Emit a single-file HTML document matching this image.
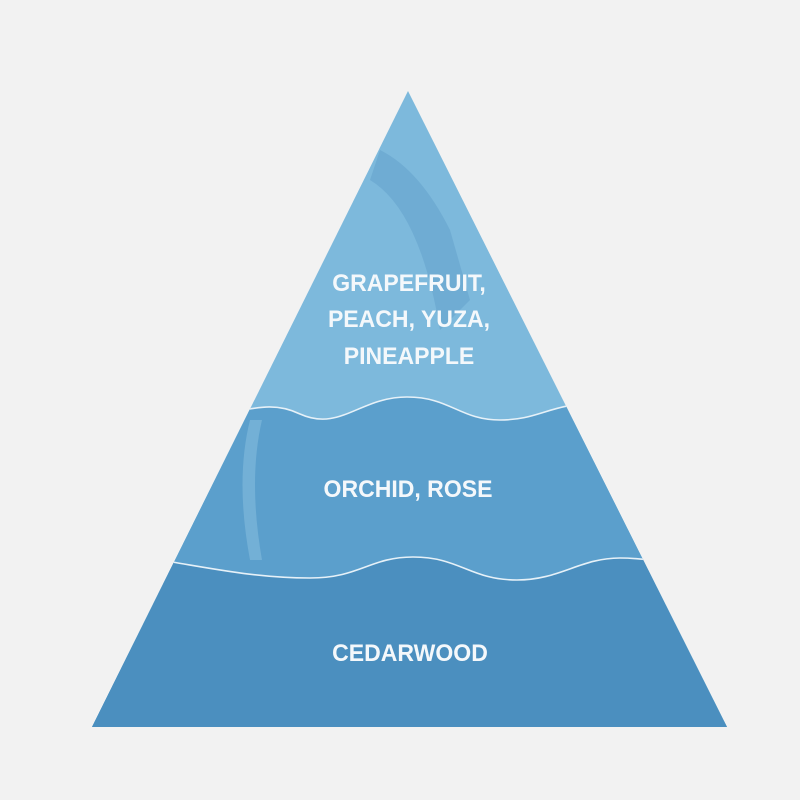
<!DOCTYPE html>
<html><head><style>
html,body{margin:0;padding:0;background:#f2f2f2;}
svg{display:block;}
text{font-family:"Liberation Sans",sans-serif;font-weight:bold;fill:#f4f8fb;font-size:24px;}
</style></head><body>
<svg width="800" height="800" viewBox="0 0 800 800">
<rect width="800" height="800" fill="#f2f2f2"/>
<defs><clipPath id="t"><polygon points="408,91 92,727 727,727"/></clipPath></defs>
<g clip-path="url(#t)">
<rect x="0" y="0" width="800" height="800" fill="#7db9dc"/>
<path d="M380,150 Q420,170 450,230 L470,300 L440,330 Q420,210 370,180 Z" fill="#6aa7cf" opacity="0.7"/>
<path d="M0,404 C40,404 60,416 100,416 C140,416 150,416 195,416 C240,416 265,397 300,414 C340,432 360,397 407,397 C450,397 460,420 500,420 C540,420 550,403 600,403 L800,403 L800,800 L0,800 Z" fill="#5b9fcc"/>
<path d="M0,560 C100,560 130,557 172,562 C220,570 260,578 310,578 C360,578 370,557 413,557 C460,557 470,580 517,580 C560,580 580,558 620,558 C660,558 680,570 800,570 L800,800 L0,800 Z" fill="#4b8fbf"/>
<path d="M250,420 Q235,480 250,560 L262,560 Q248,480 262,420 Z" fill="#8cc2e0" opacity="0.5"/>
<path d="M0,404 C40,404 60,416 100,416 C140,416 150,416 195,416 C240,416 265,397 300,414 C340,432 360,397 407,397 C450,397 460,420 500,420 C540,420 550,403 600,403 L800,403" fill="none" stroke="#e6f1f8" stroke-width="1.6"/>
<path d="M0,560 C100,560 130,557 172,562 C220,570 260,578 310,578 C360,578 370,557 413,557 C460,557 470,580 517,580 C560,580 580,558 620,558 C660,558 680,570 800,570" fill="none" stroke="#e6f1f8" stroke-width="1.6"/>
</g>
<g text-anchor="middle">
<text x="409" y="291" transform="translate(409 0) scale(0.96 1) translate(-409 0)">GRAPEFRUIT,</text>
<text x="409" y="327" transform="translate(409 0) scale(0.96 1) translate(-409 0)">PEACH, YUZA,</text>
<text x="409" y="364" transform="translate(409 0) scale(0.96 1) translate(-409 0)">PINEAPPLE</text>
<text x="408" y="497" transform="translate(408 0) scale(0.96 1) translate(-408 0)">ORCHID, ROSE</text>
<text x="410" y="661" transform="translate(410 0) scale(0.96 1) translate(-410 0)">CEDARWOOD</text>
</g>
</svg>
</body></html>
